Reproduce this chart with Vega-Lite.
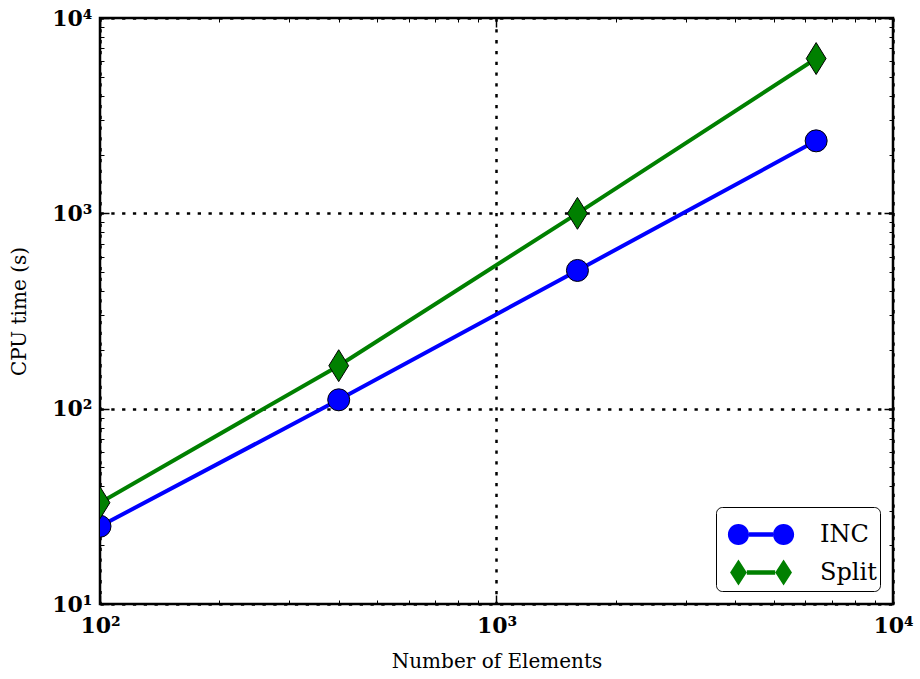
{
  "$schema": "https://vega.github.io/schema/vega-lite/v6.json",
  "width": 793,
  "height": 586,
  "autosize": {"type": "none"},
  "padding": {"left": 100, "top": 18, "right": 27, "bottom": 75},
  "background": "white",
  "config": {
    "view": {"stroke": "black", "strokeWidth": 2.5},
    "axis": {"domain": false, "labelFlush": false, "labelOverlap": false, "labelBound": false, "labelFont": "DejaVu Serif", "labelFontWeight": "bold", "labelFontSize": 22, "labelColor": "black", "tickColor": "black", "titleFont": "DejaVu Serif", "titleFontWeight": "normal", "titleFontSize": 20, "titleColor": "black"}
  },
  "data": {"values": [
    {"series": "INC", "n": 100, "time": 25},
    {"series": "INC", "n": 400, "time": 111},
    {"series": "INC", "n": 1600, "time": 510},
    {"series": "INC", "n": 6400, "time": 2350},
    {"series": "Split", "n": 100, "time": 33},
    {"series": "Split", "n": 400, "time": 166},
    {"series": "Split", "n": 1600, "time": 1000},
    {"series": "Split", "n": 6400, "time": 6200}
  ]},
  "resolve": {"axis": {"x": "independent", "y": "independent"}},
  "layer": [
    {
      "transform": [{"filter": "datum.series == 'INC'"}],
      "mark": {"type": "line", "strokeWidth": 4, "color": "#0000ff", "clip": true},
      "encoding": {
        "x": {"field": "n", "type": "quantitative", "scale": {"type": "log", "domain": [100, 10000], "nice": false},
          "axis": {"orient": "bottom", "title": "Number of Elements", "titlePadding": 15, "values": [100, 1000, 10000], "labelExpr": "'10' + (datum.value == 100 ? '²' : datum.value == 1000 ? '³' : '⁴')", "tickSize": -9, "tickWidth": 1.5, "labelPadding": 20, "grid": true, "gridColor": "black", "gridOpacity": 1, "gridWidth": 2.5, "gridDash": [3.3, 7.5]}},
        "y": {"field": "time", "type": "quantitative", "scale": {"type": "log", "domain": [10, 10000], "nice": false},
          "axis": {"orient": "left", "title": "CPU time (s)", "titlePadding": 22, "values": [10, 100, 1000, 10000], "labelExpr": "'10' + (datum.value == 10 ? '¹' : datum.value == 100 ? '²' : datum.value == 1000 ? '³' : '⁴')", "tickSize": -9, "tickWidth": 1.5, "labelPadding": 17, "grid": true, "gridColor": "black", "gridOpacity": 1, "gridWidth": 2.5, "gridDash": [3.3, 7.5]}}
      }
    },
    {
      "transform": [{"filter": "datum.series == 'INC'"}],
      "mark": {"type": "point", "shape": "circle", "filled": true, "fill": "#0000ff", "stroke": "black", "strokeWidth": 1, "size": 484, "opacity": 1, "clip": true},
      "encoding": {
        "x": {"field": "n", "type": "quantitative",
          "axis": {"orient": "bottom", "title": null, "values": [200, 300, 400, 500, 600, 700, 800, 900, 2000, 3000, 4000, 5000, 6000, 7000, 8000, 9000], "labels": false, "tickSize": -4, "tickWidth": 1, "grid": false}},
        "y": {"field": "time", "type": "quantitative",
          "axis": {"orient": "left", "title": null, "values": [20, 30, 40, 50, 60, 70, 80, 90, 200, 300, 400, 500, 600, 700, 800, 900, 2000, 3000, 4000, 5000, 6000, 7000, 8000, 9000], "labels": false, "tickSize": -4, "tickWidth": 1, "grid": false}}
      }
    },
    {
      "transform": [{"filter": "datum.series == 'Split'"}],
      "mark": {"type": "line", "strokeWidth": 4, "color": "#008000", "clip": true},
      "encoding": {
        "x": {"field": "n", "type": "quantitative",
          "axis": {"orient": "top", "title": null, "values": [100, 1000, 10000], "labels": false, "tickSize": -9, "tickWidth": 1.5, "grid": false}},
        "y": {"field": "time", "type": "quantitative",
          "axis": {"orient": "right", "title": null, "values": [10, 100, 1000, 10000], "labels": false, "tickSize": -9, "tickWidth": 1.5, "grid": false}}
      }
    },
    {
      "transform": [{"filter": "datum.series == 'Split'"}],
      "mark": {"type": "point", "shape": "M0,-1.45L0.9,0L0,1.45L-0.9,0Z", "filled": true, "fill": "#008000", "stroke": "black", "strokeWidth": 1, "size": 484, "opacity": 1, "clip": true},
      "encoding": {
        "x": {"field": "n", "type": "quantitative",
          "axis": {"orient": "top", "title": null, "values": [200, 300, 400, 500, 600, 700, 800, 900, 2000, 3000, 4000, 5000, 6000, 7000, 8000, 9000], "labels": false, "tickSize": -4, "tickWidth": 1, "grid": false}},
        "y": {"field": "time", "type": "quantitative",
          "axis": {"orient": "right", "title": null, "values": [20, 30, 40, 50, 60, 70, 80, 90, 200, 300, 400, 500, 600, 700, 800, 900, 2000, 3000, 4000, 5000, 6000, 7000, 8000, 9000], "labels": false, "tickSize": -4, "tickWidth": 1, "grid": false}}
      }
    },
    {
      "transform": [{"filter": "datum.n < 0"}],
      "mark": {"type": "point", "filled": true, "size": 2304, "stroke": "black", "strokeWidth": 1},
      "encoding": {
        "x": {"field": "n", "type": "quantitative", "axis": null},
        "y": {"field": "time", "type": "quantitative", "axis": null},
        "color": {"field": "series", "type": "nominal", "scale": {"domain": ["INC", "Split"], "range": ["#0000ff", "#008000"]},
          "legend": {"title": null, "orient": "bottom-right", "offset": 13, "direction": "vertical", "padding": 3, "rowPadding": 0, "fillColor": "white", "strokeColor": "black", "cornerRadius": 6, "symbolSize": 2304, "symbolOpacity": 1, "symbolStrokeColor": "black", "symbolStrokeWidth": 1, "labelFont": "DejaVu Serif", "labelFontSize": 24, "labelColor": "black", "labelOffset": 52, "labelExpr": "datum.label + '   '"}},
        "shape": {"field": "series", "type": "nominal", "scale": {"domain": ["INC", "Split"], "range": [
          "M0.23,0A0.44,0.44 0 1,1 -0.65,0A0.44,0.44 0 1,1 0.23,0ZM0.23,-0.09L1.23,-0.09L1.23,0.09L0.23,0.09ZM2.11,0A0.44,0.44 0 1,1 1.23,0A0.44,0.44 0 1,1 2.11,0Z",
          "M-0.21,-0.54L0.14,0L-0.21,0.54L-0.56,0ZM0.14,-0.09L1.32,-0.09L1.32,0.09L0.14,0.09ZM1.67,-0.54L2.02,0L1.67,0.54L1.32,0Z"]},
          "legend": {"title": null, "orient": "bottom-right", "offset": 13, "direction": "vertical", "padding": 3, "rowPadding": 0, "fillColor": "white", "strokeColor": "black", "cornerRadius": 6, "symbolSize": 2304, "symbolOpacity": 1, "symbolStrokeColor": "black", "symbolStrokeWidth": 1, "labelFont": "DejaVu Serif", "labelFontSize": 24, "labelColor": "black", "labelOffset": 52, "labelExpr": "datum.label + '   '"}}
      }
    }
  ]
}
